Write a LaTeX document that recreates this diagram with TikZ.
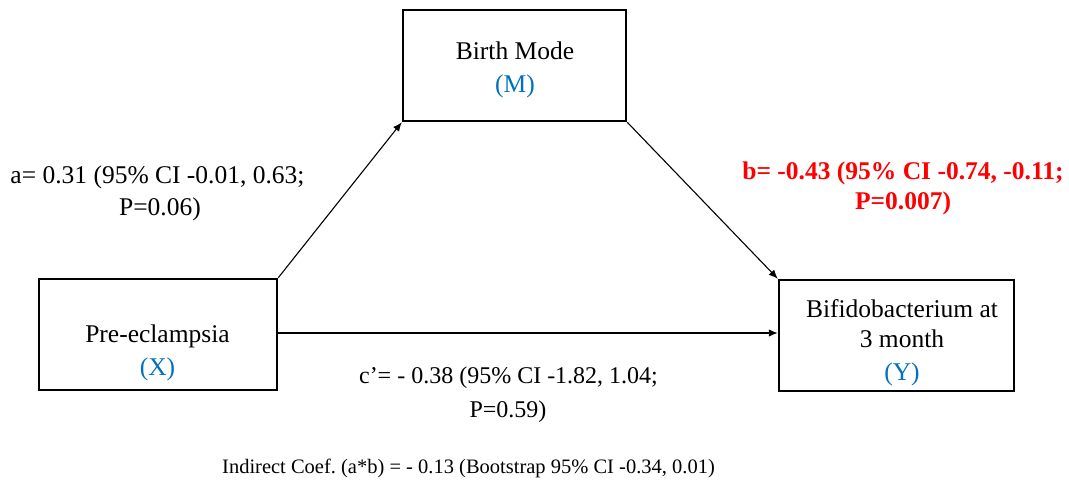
\documentclass[tikz,border=0pt]{standalone}
\usepackage{fontspec}
\setmainfont{Liberation Serif}
\usetikzlibrary{arrows.meta}
\frenchspacing
\definecolor{varblue}{HTML}{0070C0}
\definecolor{effred}{HTML}{FF0000}
\tikzset{
  varbox/.style={draw, line width=2.5pt, rectangle, inner sep=0pt},
  txt/.style={anchor=base, inner sep=0pt, font=\fontsize{25.5}{30}\selectfont},
  vtxt/.style={txt, text=varblue},
  rtxt/.style={txt, text=effred, font=\fontsize{25.5}{30}\selectfont\bfseries},
  ctxt/.style={txt, font=\fontsize{24}{28}\selectfont},
  itxt/.style={txt, font=\fontsize{20.5}{24}\selectfont},
  path/.style={draw, line width=1.1pt, -{Latex[length=9pt,width=7.5pt]}}
}
\begin{document}
\begin{tikzpicture}[x=1pt,y=-1pt]
\useasboundingbox (0,0) rectangle (1069,500);
% variable boxes
\node[varbox, minimum width=223pt, minimum height=111pt] (bm) at (514.5,65.5) {};
\node[varbox, minimum width=238pt, minimum height=111pt] (pe) at (158,334.5) {};
\node[varbox, minimum width=235pt, minimum height=111pt] (bif) at (896.5,335.5) {};
% box texts
\node[txt] (bmt) at (515,60) {Birth Mode};
\node[vtxt] (bmv) at (515,93) {(M)};
\node[txt] (pet) at (157.5,342) {Pre-eclampsia};
\node[vtxt] (pev) at (157.5,375) {(X)};
\node[txt] (bift1) at (902,317) {Bifidobacterium at};
\node[txt] (bift2) at (902,347) {3 month};
\node[vtxt] (bifv) at (902,380) {(Y)};
% paths
\draw[path] (pe.north east) -- (bm.south west);
\draw[path] (bm.south east) -- (bif.north west);
\coordinate (cstart) at (pe.east |- 0,333);
\draw[path] (cstart) -- (cstart -| bif.west);
% coefficient labels
\node[txt] (a1) at (157.5,183) {a= 0.31 (95\% CI -0.01, 0.63;};
\node[txt] (a2) at (160,215) {P=0.06)};
\node[rtxt] (b1) at (903,180) {b= -0.43 (95\% CI -0.74, -0.11;};
\node[rtxt] (b2) at (903,210) {P=0.007)};
\node[ctxt] (c1) at (508.5,383) {c’= - 0.38 (95\% CI -1.82, 1.04;};
\node[ctxt] (c2) at (508,417) {P=0.59)};
\node[itxt] (ind) at (468.5,473) {Indirect Coef. (a*b) = - 0.13 (Bootstrap 95\% CI -0.34, 0.01)};
\end{tikzpicture}
\end{document}
